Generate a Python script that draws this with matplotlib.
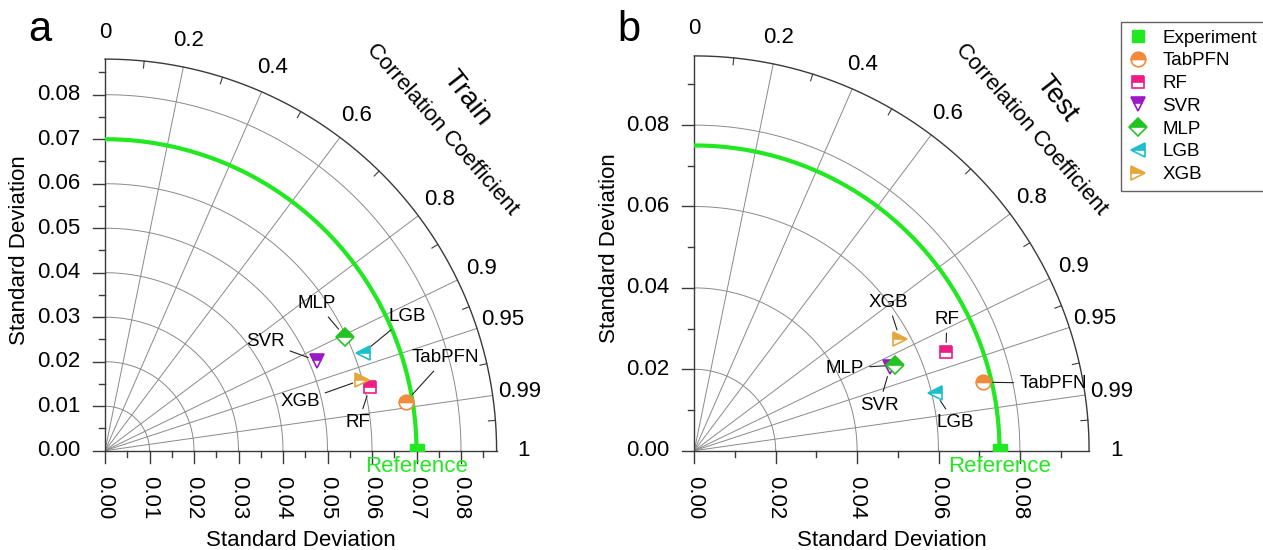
import numpy as np
import matplotlib.pyplot as plt
from matplotlib.lines import Line2D

plt.rcParams['font.family'] = ['Liberation Sans', 'DejaVu Sans']

# datos
models = ['TabPFN', 'RF', 'SVR', 'MLP', 'LGB', 'XGB']
train_std = [0.0685, 0.0613, 0.0518, 0.0597, 0.0620, 0.0599]
train_corr = [0.987, 0.972, 0.921, 0.903, 0.935, 0.964]
test_std = [0.0729, 0.0664, 0.0523, 0.0536, 0.0608, 0.0575]
test_corr = [0.973, 0.931, 0.920, 0.920, 0.972, 0.879]
train_ref = 0.070
test_ref = 0.075

corr_ticks = [0.2, 0.4, 0.6, 0.8, 0.9, 0.95, 0.99]
corr_minor = [0.1, 0.3, 0.5, 0.7, 0.85, 0.93, 0.975, 0.997]
corr_labels = ['0', '0.2', '0.4', '0.6', '0.8', '0.9', '0.95', '0.99', '1']

markers = ['o', 's', 'v', 'D', '<', '>']
colors = ['#f08a3c', '#ee1d84', '#9b19c7', '#22c322', '#1dbfcf', '#e6a73a']
green = '#22e822'
grid = '#8a8a8a'
dark = '#3a3a3a'

# desplazamiento de etiquetas (px) respecto al marcador
off_train = {'TabPFN': (40, 44), 'RF': (-12, -36), 'SVR': (-52, 19),
             'MLP': (-28, 33), 'LGB': (44, 36), 'XGB': (-62, -22)}
off_test = {'TabPFN': (70, -1), 'RF': (1, 33), 'SVR': (-11, -38),
            'MLP': (-50, -3), 'LGB': (20, -30), 'XGB': (-12, 37)}

W, H = 1263, 550
fig = plt.figure(figsize=(W / 100, H / 100), dpi=100)


def taylor(ox, oy, s, std, corr, ref, rmax, tmajor, tminor, title, letter, offs):
    px = 1.0 / s
    ax = fig.add_axes([ox / W, (H - oy) / H, 400 / W, 400 / H])
    ax.set_xlim(0, 400 * px)
    ax.set_ylim(0, 400 * px)
    ax.axis('off')
    th = np.linspace(0, np.pi / 2, 400)

    # arcos de desviacion estandar
    for r in np.arange(tmajor, rmax - 1e-9, tmajor):
        ax.plot(r * np.cos(th), r * np.sin(th), color=grid, lw=0.7)
    # lineas de correlacion
    for c in corr_ticks:
        a = np.arccos(c)
        ax.plot([0, rmax * np.cos(a)], [0, rmax * np.sin(a)], color=grid, lw=0.7)
    for c in corr_minor:
        a = np.arccos(c)
        ax.plot([rmax * np.cos(a), (rmax - 7 * px) * np.cos(a)],
                [rmax * np.sin(a), (rmax - 7 * px) * np.sin(a)], color=dark, lw=0.8)
    ax.plot(rmax * np.cos(th), rmax * np.sin(th), color=dark, lw=1.0, clip_on=False)
    ax.plot([0, 0], [0, rmax], color=dark, lw=1.0, clip_on=False)
    ax.plot([0, rmax], [0, 0], color=dark, lw=1.0, clip_on=False)

    for c, lab in zip([0] + corr_ticks + [1], corr_labels):
        a = np.arccos(c)
        r = rmax + 27 * px
        ax.text(r * np.cos(a), r * np.sin(a), lab, ha='center', va='center', fontsize=16)

    # ticks de los ejes
    nmin = int(np.floor(rmax / tminor + 1e-9))
    for i in range(nmin + 1):
        v = i * tminor
        major = abs(v / tmajor - round(v / tmajor)) < 1e-6
        L = 12 * px if major else 6 * px
        ax.plot([-L, 0], [v, v], color=dark, lw=1.0, clip_on=False)
        ax.plot([v, v], [-L, 0], color=dark, lw=1.0, clip_on=False)
        if major:
            ax.text(-25 * px, v, f'{v:.2f}', ha='right', va='center', fontsize=16)
            ax.text(v, -25 * px, f'{v:.2f}', ha='center', va='top', rotation=-90, fontsize=16)

    ax.text(rmax / 2, -90 * px, 'Standard Deviation', ha='center', va='center', fontsize=16)
    ax.text(-85 * px, rmax / 2 + 5 * px, 'Standard Deviation', ha='center', va='center',
            rotation=90, fontsize=16)
    ax.text(337 * px, 321 * px, 'Correlation Coefficient', ha='center', va='center',
            rotation=-49, fontsize=16)
    ax.text(362 * px, 352 * px, title, ha='center', va='center', rotation=-52, fontsize=20)
    ax.text(-65 * px, 421 * px, letter, ha='center', va='center', fontsize=30)

    # referencia
    ax.plot(ref * np.cos(th), ref * np.sin(th), color=green, lw=3)
    ax.plot(ref, 0, 's', ms=10, color=green)
    ax.text(ref, -16 * px, 'Reference', color=green, ha='center', va='center', fontsize=16)

    hs = []
    for m, sd, cc, mk, col in zip(models, std, corr, markers, colors):
        x = sd * cc
        y = sd * np.sqrt(1 - cc ** 2)
        h, = ax.plot(x, y, marker=mk, ls='none', ms=9 if mk in 'Ds' else 10.5,
                     mfc=col, mfcalt='white', mec=col, fillstyle='top', mew=1.2,
                     label=m, zorder=5)
        hs.append(h)
        dx, dy = offs[m]
        ax.annotate(m, (x, y), xytext=(dx * 0.72, dy * 0.72), textcoords='offset points',
                    ha='center', va='center', fontsize=13.5,
                    arrowprops=dict(arrowstyle='-', color='#222222', lw=0.8,
                                    shrinkA=2, shrinkB=7))
    return hs


taylor(105, 450.7, 4450, train_std, train_corr, train_ref, 0.088, 0.01, 0.005,
       'Train', 'a', off_train)
hs = taylor(694.3, 450.7, 4070, test_std, test_corr, test_ref, 0.097, 0.02, 0.01,
            'Test', 'b', off_test)

exp = Line2D([], [], marker='s', ls='none', ms=9, color=green, label='Experiment')
fig.legend(handles=[exp] + hs, loc='upper left', bbox_to_anchor=(1121 / W, 1 - 22 / H),
           frameon=True, fancybox=False, edgecolor=dark, fontsize=13.5,
           handlelength=1.0, handletextpad=0.8, labelspacing=0.3, borderpad=0.4,
           borderaxespad=0)

fig.savefig('out.png', dpi=100)
